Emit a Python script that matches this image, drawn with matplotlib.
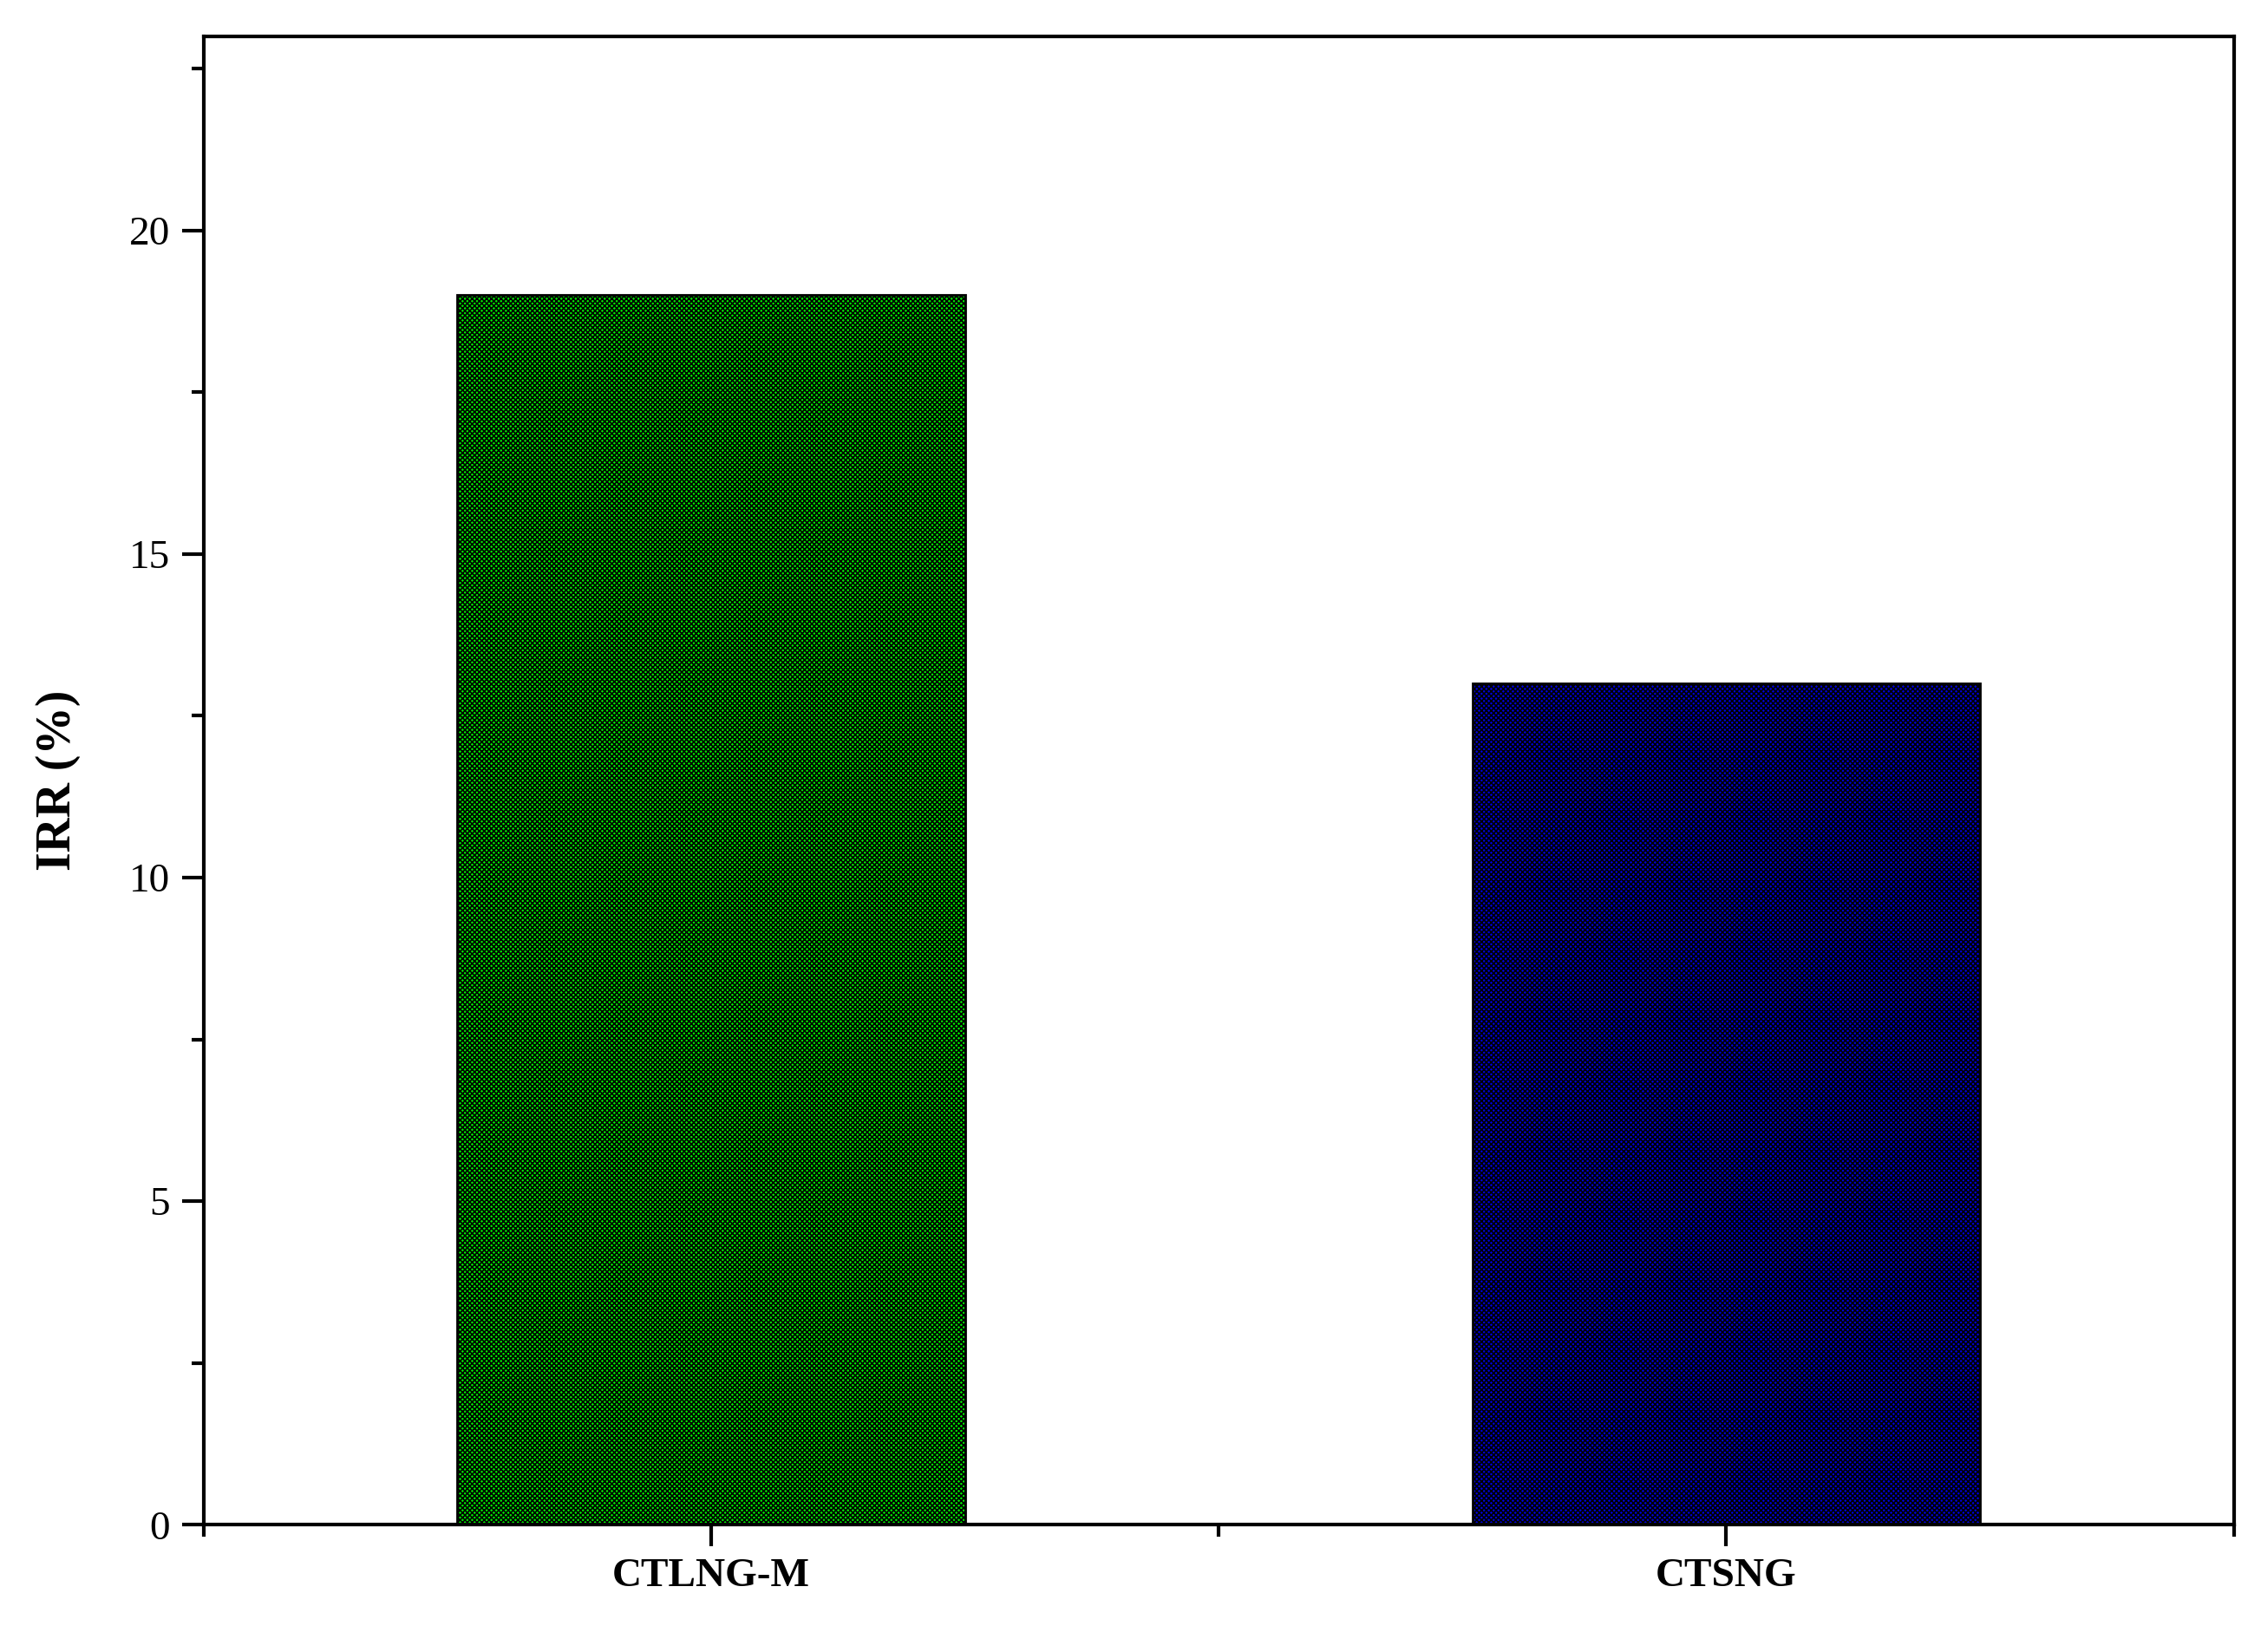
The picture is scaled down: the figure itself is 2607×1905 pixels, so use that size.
import matplotlib
matplotlib.use("Agg")
import matplotlib.pyplot as plt
from matplotlib.ticker import MultipleLocator, FixedLocator

categories = ["CTLNG-M", "CTSNG"]
values = [19.0, 13.0]
colors = ["#00ee00", "#0000dd"]

plt.rcParams['font.family'] = ['Liberation Serif']
plt.rcParams['hatch.linewidth'] = 1.2
fig = plt.figure(figsize=(26.07, 19.05), dpi=100)
ax = fig.add_axes([0.090, 0.077, 0.898, 0.901])
pos = [1, 2]
for p, v, c in zip(pos, values, colors):
    ax.bar(p, v, width=0.5, color=c, edgecolor="black", hatch="xxxxxx", linewidth=2, zorder=2)
ax.set_xlim(0.5, 2.5)
ax.set_ylim(0, 23)
ax.set_xticks(pos)
ax.set_xticklabels(categories, fontsize=36, fontweight="bold")
ax.xaxis.set_minor_locator(FixedLocator([0.5, 1.5, 2.5]))
ax.yaxis.set_major_locator(MultipleLocator(5))
ax.yaxis.set_minor_locator(MultipleLocator(2.5))
ax.tick_params(axis="both", which="major", direction="out", length=18, width=3, labelsize=34, pad=10)
ax.tick_params(axis="both", which="minor", direction="out", length=10, width=3)
ax.tick_params(top=False, right=False, which="both")
for s in ax.spines.values():
    s.set_linewidth(3)
ax.set_ylabel("IRR (%)", fontsize=40, fontweight="bold", labelpad=40)
fig.savefig("out.png", dpi=100)
